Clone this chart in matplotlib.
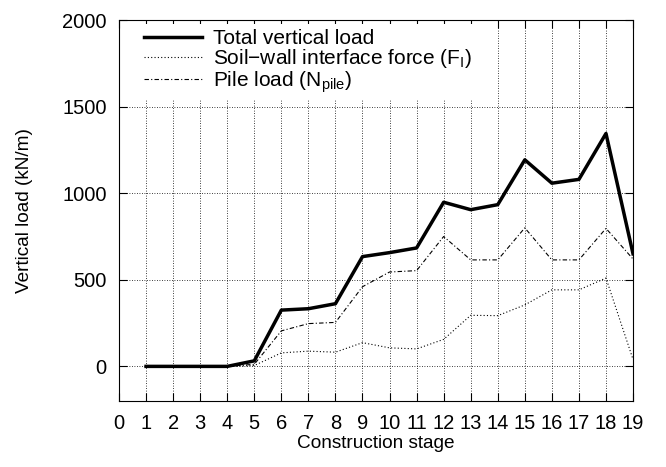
import matplotlib
matplotlib.use("Agg")
from matplotlib import pyplot as plt

plt.rcParams['font.family'] = ['Liberation Sans', 'DejaVu Sans']

# construction stages and loads (kN/m)
stage = list(range(1, 20))
total = [0, 0, 0, 0, 32, 325, 333, 362, 634, 657, 684, 948, 905, 934, 1193, 1058, 1080, 1345, 650]
soil = [0, 0, 0, 0, 5, 78, 88, 82, 137, 107, 101, 156, 295, 293, 355, 442, 442, 510, 40]
pile = [0, 0, 0, 0, 12, 205, 247, 254, 460, 545, 553, 750, 615, 615, 800, 615, 615, 797, 620]

fig = plt.figure(figsize=(6.66, 4.67), dpi=100)
ax = fig.add_axes([0.1787, 0.1413, 0.7718, 0.8157])

ax.plot(stage, total, color='black', lw=2.5, label='Total vertical load')
ax.plot(stage, soil, color='black', lw=0.8, ls=(0, (1, 2)),
        label='Soil\u2212wall interface force (F$_\\mathregular{I}$)')
ax.plot(stage, pile, color='black', lw=0.8, ls=(0, (4, 2, 1, 2)),
        label='Pile load (N$_\\mathregular{pile}$)')

ax.set_xlim(0, 19)
ax.set_ylim(-200, 2000)
ax.set_xticks(range(0, 20))
ax.set_yticks([0, 500, 1000, 1500, 2000])
ax.grid(True, color='black', ls=(0, (1, 2)), lw=0.6)
ax.tick_params(direction='in', top=True, right=True, labelsize=14.5, length=6)
ax.tick_params(axis='x', pad=9)
ax.tick_params(axis='y', pad=9)
ax.set_xlabel('Construction stage', fontsize=13.7, labelpad=2)
ax.set_ylabel('Vertical load (kN/m)', fontsize=13.7, labelpad=21)

leg = ax.legend(loc='upper left', bbox_to_anchor=(0.039, 0.99), fontsize=15,
                frameon=True, fancybox=False, handlelength=2.75,
                labelspacing=-0.05, borderaxespad=0, borderpad=0.25,
                handletextpad=0.55)
leg.get_frame().set_edgecolor('none')
leg.get_frame().set_facecolor('white')
leg.get_frame().set_alpha(1)

fig.savefig('out.png', dpi=100)
